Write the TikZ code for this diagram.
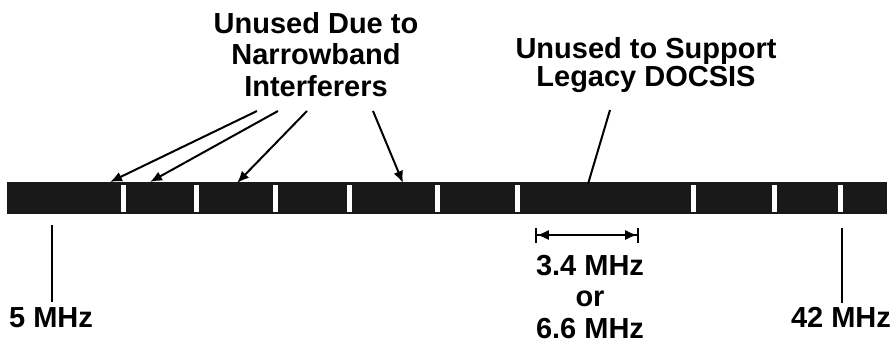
\documentclass[tikz,border=0pt]{standalone}
\usepackage{fontspec}
\setmainfont{Liberation Sans}
\usetikzlibrary{arrows.meta}
\tikzset{
  lbl/.style={font=\bfseries\fontsize{29}{31.5}\selectfont, inner sep=0pt, align=center},
  ptr/.style={line width=2pt, -{Latex[length=12pt,width=10pt]}},
  leader/.style={line width=2pt},
  tick/.style={line width=1.5pt},
  band/.style={fill=black!90, draw=none},
  slit/.style={fill=white, draw=none},
  dim/.style={line width=1.8pt, {Bar[width=15pt,sep=0pt]Latex[length=12pt,width=10pt]}-{Latex[length=12pt,width=10pt]Bar[width=15pt,sep=0pt]}}
}
\begin{document}
\begin{tikzpicture}[x=1pt,y=-1pt]
\useasboundingbox (0,0) rectangle (894,351);
% spectrum band
\path[band] (7,182) rectangle (887,214);
\foreach \sx in {123,196,275,349,437,517,693,774,840}
  \path[slit] (\sx-2.5,185) rectangle (\sx+2.5,212);
% labels
\node[lbl, anchor=north] (narrow) at (316,12) {Unused Due to\\Narrowband\\Interferers};
\node[lbl, anchor=north, font=\bfseries\fontsize{29}{28.5}\selectfont] (legacy) at (646,37) {Unused to Support\\Legacy DOCSIS};
\node[lbl, anchor=base] (f5) at (51,327) {5 MHz};
\node[lbl, anchor=base] (f42) at (841,327) {42 MHz};
\node[lbl, anchor=north] (bw) at (590,255) {3.4 MHz\\or\\6.6 MHz};
% arrow start and end points
\coordinate (s1) at (257,111);
\coordinate (s2) at (278,111);
\coordinate (s3) at (307,111);
\coordinate (s4) at (373,111);
\coordinate (t1) at (110,182);
\coordinate (t2) at (150,182);
\coordinate (t3) at (237,183);
\coordinate (t4) at (403,183);
\coordinate (ls) at (610,110);
\coordinate (lt) at (588,184);
\draw[ptr] (s1) -- (t1);
\draw[ptr] (s2) -- (t2);
\draw[ptr] (s3) -- (t3);
\draw[ptr] (s4) -- (t4);
\draw[leader] (ls) -- (lt);
% frequency ticks
\coordinate (k5a) at (52,225);
\coordinate (k5b) at (52,302);
\coordinate (k42a) at (842,228);
\coordinate (k42b) at (842,303);
\draw[tick] (k5a) -- (k5b);
\draw[tick] (k42a) -- (k42b);
% bandwidth dimension
\coordinate (da) at (535,235);
\coordinate (db) at (639,235);
\draw[dim] (da) -- (db);
\end{tikzpicture}
\end{document}
